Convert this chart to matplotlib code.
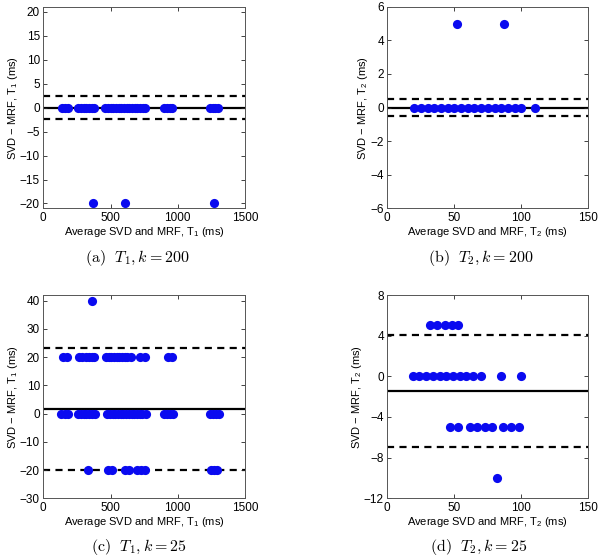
import matplotlib
matplotlib.use("Agg")
import matplotlib.pyplot as plt

plt.rcParams['font.family'] = ['Liberation Sans', 'DejaVu Sans']
plt.rcParams['mathtext.fontset'] = 'custom'
plt.rcParams['mathtext.rm'] = 'Liberation Sans'
plt.rcParams['mathtext.it'] = 'Liberation Sans'

# ---- data ----
# (a) T1, k=200
a_x_zero = [140, 160, 180, 260, 280, 300, 320, 340, 360, 380,
            460, 480, 500, 520, 540, 560, 580, 600, 620, 640, 660, 680, 700, 720, 740, 760,
            900, 920, 940, 960, 1240, 1260, 1280, 1300]
a_y_zero = [0] * len(a_x_zero)
a_x_out = [367, 610, 1270]
a_y_out = [-20, -20, -20]
a_lines = [0.0, 2.3, -2.3]  # mean, upper, lower

# (b) T2, k=200
b_x_zero = [20, 25, 30, 35, 40, 45, 50, 55, 60, 65, 70, 75, 80, 85, 90, 95, 100, 110]
b_y_zero = [0] * len(b_x_zero)
b_x_out = [52, 87]
b_y_out = [5, 5]
b_lines = [0.0, 0.48, -0.48]

# (c) T1, k=25
c_x_p40 = [360]
c_x_p20 = [150, 175, 265, 290, 315, 340, 365, 375, 465, 485, 505, 525, 545, 565, 585,
           605, 625, 650, 722, 754, 928, 958]
c_x_zero = [135, 160, 185, 258, 280, 300, 320, 340, 360, 382,
            476, 496, 516, 536, 556, 576, 596, 616, 636, 656, 676, 696, 716, 736, 764,
            898, 920, 942, 965, 1238, 1260, 1283, 1305]
c_x_m20 = [330, 482, 511, 605, 635, 700, 730, 759, 1250, 1270, 1292]
c_lines = [1.6, 23.3, -20.1]

# (d) T2, k=25
d_x_p5 = [32, 37, 43, 48, 53]
d_x_zero = [19, 24, 29, 34, 39, 44, 49, 54, 59, 64, 70, 85, 100]
d_x_m5 = [47, 53, 62, 67, 73, 78, 86, 92, 98]
d_x_m10 = [82]
d_lines = [-1.42, 4.1, -6.95]

captions = [r"$\mathrm{(a)}\ \ T_1, k = 200$", r"$\mathrm{(b)}\ \ T_2, k = 200$",
            r"$\mathrm{(c)}\ \ T_1, k = 25$", r"$\mathrm{(d)}\ \ T_2, k = 25$"]

fig = plt.figure(figsize=(6.0, 5.58), dpi=100)

W, H = 600, 558
def rect(l, r, t, b):
    return [l / W, (H - b) / H, (r - l) / W, (b - t) / H]

axes_rects = [rect(43.3, 245, 6.7, 208.3), rect(387.3, 588.3, 6.7, 208.3),
              rect(43.3, 245, 295, 498.3), rect(387.3, 588.3, 295, 498.3)]

blue = '#0a0af0'
ms = 6.6

def style(ax, xlim, xticks, ylim, yticks, sub):
    ax.set_xlim(*xlim)
    ax.set_ylim(*ylim)
    ax.set_xticks(xticks)
    ax.set_yticks(yticks)
    ax.tick_params(direction='in', top=True, right=True, labelsize=8.5,
                   length=3, width=0.6, pad=2.5, colors='#222222', labelcolor='black')
    for s in ax.spines.values():
        s.set_color('#555555')
        s.set_linewidth(0.7)
    ax.set_xlabel(r"Average SVD and MRF, T$_{%s}$ (ms)" % sub, fontsize=8, labelpad=1)
    ax.set_ylabel(r"SVD − MRF, T$_{%s}$ (ms)" % sub, fontsize=8, labelpad=0)

def draw_lines(ax, lines):
    ax.axhline(lines[0], color='black', lw=1.6, zorder=1)
    for v in lines[1:]:
        ax.axhline(v, color='black', lw=1.6, linestyle=(0, (3.2, 2.4)), zorder=1)

def pts(ax, xs, ys):
    ax.plot(xs, ys, 'o', color=blue, markersize=ms, markeredgewidth=0, zorder=3)

# (a)
ax = fig.add_axes(axes_rects[0])
draw_lines(ax, a_lines)
pts(ax, a_x_zero, a_y_zero)
pts(ax, a_x_out, a_y_out)
style(ax, (0, 1500), [0, 500, 1000, 1500], (-21, 21), [-20, -15, -10, -5, 0, 5, 10, 15, 20], '1')

# (b)
ax = fig.add_axes(axes_rects[1])
draw_lines(ax, b_lines)
pts(ax, b_x_zero, b_y_zero)
pts(ax, b_x_out, b_y_out)
style(ax, (0, 150), [0, 50, 100, 150], (-6, 6), [-6, -4, -2, 0, 2, 4, 6], '2')

# (c)
ax = fig.add_axes(axes_rects[2])
draw_lines(ax, c_lines)
pts(ax, c_x_p40, [40] * len(c_x_p40))
pts(ax, c_x_p20, [20] * len(c_x_p20))
pts(ax, c_x_zero, [0] * len(c_x_zero))
pts(ax, c_x_m20, [-20] * len(c_x_m20))
style(ax, (0, 1500), [0, 500, 1000, 1500], (-30, 42), [-30, -20, -10, 0, 10, 20, 30, 40], '1')

# (d)
ax = fig.add_axes(axes_rects[3])
draw_lines(ax, d_lines)
pts(ax, d_x_p5, [5] * len(d_x_p5))
pts(ax, d_x_zero, [0] * len(d_x_zero))
pts(ax, d_x_m5, [-5] * len(d_x_m5))
pts(ax, d_x_m10, [-10] * len(d_x_m10))
style(ax, (0, 150), [0, 50, 100, 150], (-12, 8), [-12, -8, -4, 0, 4, 8], '2')

cap_pos = [(137, 258), (481, 258), (139, 547), (479, 547)]
for (cx, cy), cap in zip(cap_pos, captions):
    fig.text(cx / W, 1 - cy / H, cap, ha='center', va='center', fontsize=11.5,
             math_fontfamily='cm')

fig.savefig('out.png', dpi=100)
